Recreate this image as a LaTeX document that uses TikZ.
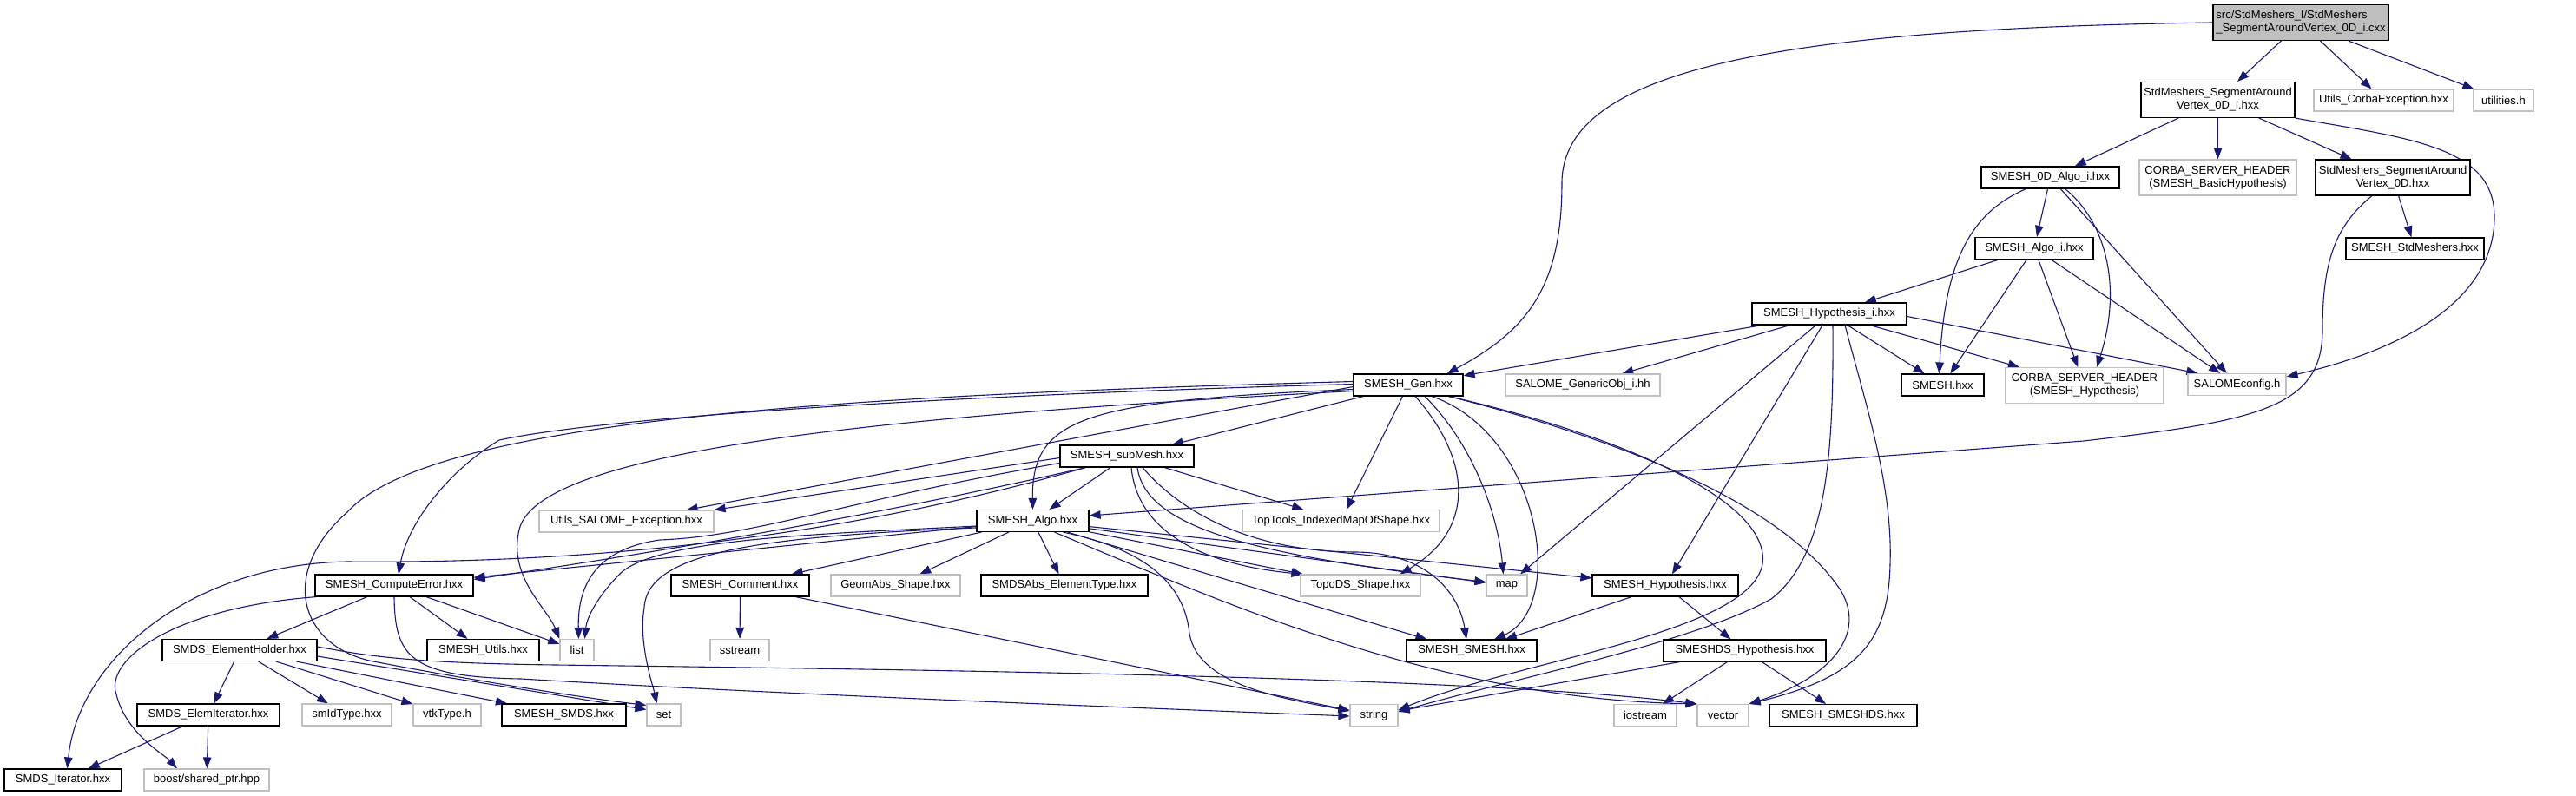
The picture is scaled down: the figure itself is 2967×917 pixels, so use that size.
\documentclass[tikz,border=0pt]{standalone}
\usepackage{fontspec}
\newfontfamily\dox{Liberation Sans}
\usetikzlibrary{arrows.meta,calc}
\definecolor{edgec}{HTML}{191970}
\definecolor{grayb}{HTML}{BFBFBF}
\pgfdeclarelayer{bg}
\pgfsetlayers{bg,main}
\begin{document}
\begin{tikzpicture}[x=1pt,y=-1pt,
  nd/.style={draw=black, line width=1.15pt, fill=white, minimum height=25pt, inner xsep=3pt, inner ysep=1pt,
    font=\dox\fontsize{13}{15}\selectfont, align=center},
  bn/.style={nd},
  gn/.style={nd, draw=grayb},
  tw/.style={minimum height=41pt},
  dep/.style={draw=edgec, line width=1.1pt, -{Triangle[length=13pt,width=9.5pt]}},
]
\useasboundingbox (0,0) rectangle (2967,917);
% nodes
\node[bn, tw, fill=grayb, align=left, minimum width=202pt] (root) at (2650,26) {src/StdMeshers\_I/StdMeshers\\\_SegmentAroundVertex\_0D\_i.cxx};
\node[bn, tw, minimum width=177pt] (v0di) at (2554.5,115) {StdMeshers\_SegmentAround\\Vertex\_0D\_i.hxx};
\node[gn, minimum width=161pt] (ucorba) at (2745.5,115.5) {Utils\_CorbaException.hxx};
\node[gn, minimum width=69pt] (utilh) at (2883.5,115.5) {utilities.h};
\node[bn, minimum width=159pt] (algo0d) at (2361.5,204.5) {SMESH\_0D\_Algo\_i.hxx};
\node[gn, tw, minimum width=181pt] (basichyp) at (2554.5,204.5) {CORBA\_SERVER\_HEADER\\(SMESH\_BasicHypothesis)};
\node[bn, tw, minimum width=178pt] (v0d) at (2756,204.5) {StdMeshers\_SegmentAround\\Vertex\_0D.hxx};
\node[bn, minimum width=136pt] (algoi) at (2343,286) {SMESH\_Algo\_i.hxx};
\node[bn, minimum width=159pt] (stdm) at (2781.5,286.5) {SMESH\_StdMeshers.hxx};
\node[bn, minimum width=178pt] (hypi) at (2107,361.5) {SMESH\_Hypothesis\_i.hxx};
\node[bn, minimum width=126pt] (gen) at (1622,443.5) {SMESH\_Gen.hxx};
\node[gn, minimum width=178pt] (generic) at (1823,443.5) {SALOME\_GenericObj\_i.hh};
\node[bn, minimum width=95pt] (smeshhxx) at (2237.5,443.5) {SMESH.hxx};
\node[gn, tw, minimum width=182pt] (corbahyp) at (2401,444) {CORBA\_SERVER\_HEADER\\(SMESH\_Hypothesis)};
\node[gn, minimum width=113pt] (salcfg) at (2576.5,443) {SALOMEconfig.h};
\node[bn, minimum width=154pt] (submesh) at (1298,525.5) {SMESH\_subMesh.hxx};
\node[gn, minimum width=201pt] (usalome) at (721.5,600.5) {Utils\_SALOME\_Exception.hxx};
\node[bn, minimum width=129pt] (algo) at (1189.5,600) {SMESH\_Algo.hxx};
\node[gn, minimum width=227pt] (toptools) at (1544.5,600) {TopTools\_IndexedMapOfShape.hxx};
\node[bn, minimum width=182pt] (comperr) at (454,674.5) {SMESH\_ComputeError.hxx};
\node[bn, minimum width=159pt] (comment) at (852.5,674.5) {SMESH\_Comment.hxx};
\node[gn, minimum width=149pt] (geomabs) at (1031.5,674.5) {GeomAbs\_Shape.hxx};
\node[bn, minimum width=192pt] (smdsabs) at (1226,674.5) {SMDSAbs\_ElementType.hxx};
\node[gn, minimum width=138pt] (topods) at (1567,674.5) {TopoDS\_Shape.hxx};
\node[gn, minimum width=47pt] (map) at (1735.5,674.5) {map};
\node[bn, minimum width=168pt] (smeshhyp) at (1918,674.5) {SMESH\_Hypothesis.hxx};
\node[bn, minimum width=178pt] (holder) at (276,749) {SMDS\_ElementHolder.hxx};
\node[bn, minimum width=129pt] (utils) at (556.5,749) {SMESH\_Utils.hxx};
\node[gn, minimum width=39pt] (list) at (664.5,749) {list};
\node[gn, minimum width=68pt] (sstream) at (852,749) {sstream};
\node[bn, minimum width=150pt] (smeshsmesh) at (1695,749.5) {SMESH\_SMESH.hxx};
\node[bn, minimum width=187pt] (dshyp) at (2009.5,749.5) {SMESHDS\_Hypothesis.hxx};
\node[bn, minimum width=164pt] (elemiter) at (240,823.5) {SMDS\_ElemIterator.hxx};
\node[gn, minimum width=103pt] (smidtype) at (399.5,823.5) {smIdType.hxx};
\node[gn, minimum width=78pt] (vtktype) at (515,823.5) {vtkType.h};
\node[bn, minimum width=143pt] (smds) at (649.5,823.5) {SMESH\_SMDS.hxx};
\node[gn, minimum width=39pt] (set) at (764.5,823.5) {set};
\node[gn, minimum width=55pt] (string) at (1582.5,824) {string};
\node[gn, minimum width=72pt] (iostream) at (1895,824) {iostream};
\node[gn, minimum width=59pt] (vector) at (1984.5,824) {vector};
\node[bn, minimum width=170pt] (smeshds) at (2123,824) {SMESH\_SMESHDS.hxx};
\node[bn, minimum width=135pt] (iterator) at (72.5,898.5) {SMDS\_Iterator.hxx};
\node[gn, minimum width=144pt] (boost) at (238,898.5) {boost/shared\_ptr.hpp};

\begin{pgfonlayer}{bg}
\fill[white] (0,0) rectangle (2967,917);
% root
\draw[dep] (root) -- (v0di);
\draw[dep] (root) -- (ucorba);
\draw[dep] (root) -- (utilh);
\draw[dep] (root.west) .. controls (2050,33) and (1800,80) .. (1799,210) .. controls (1799,330) and (1760,380) .. ($(gen.north east)+(-19,0)$);
% v0di
\draw[dep] (v0di) -- (algo0d);
\draw[dep] (v0di) -- (basichyp);
\draw[dep] (v0di) -- (v0d);
\draw[dep] (v0di.south east) .. controls (2780,160) and (2873,170) .. (2873,250) .. controls (2873,340) and (2780,400) .. ($(salcfg.north east)+(0,4)$);
% v0d
\draw[dep] (v0d) -- (stdm);
\draw[dep] ($(v0d.south)+(-24,0)$) .. controls (2690,260) and (2675,300) .. (2675,380) .. controls (2675,470) and (2600,485) .. (2400,508) -- ($(algo.east)+(0,-6)$);
% algo0d
\draw[dep] (algo0d) -- (algoi);
\draw[dep] ($(algo0d.south)+(-28,0)$) .. controls (2270,245) and (2240,300) .. ($(smeshhxx.north)+(-4,0)$);
\draw[dep] ($(algo0d.south)+(17,0)$) .. controls (2425,255) and (2445,330) .. ($(corbahyp.north)+(14,0)$);
\draw[dep] (algo0d) -- (salcfg);
% algoi
\draw[dep] (algoi) -- (hypi);
\draw[dep] (algoi) -- (smeshhxx);
\draw[dep] (algoi) -- (corbahyp);
\draw[dep] (algoi) -- (salcfg);
% hypi
\draw[dep] (hypi) -- (gen);
\draw[dep] (hypi) -- (generic);
\draw[dep] (hypi) -- (smeshhxx);
\draw[dep] (hypi) -- (corbahyp);
\draw[dep] ($(hypi.east)+(0,3)$) -- ($(salcfg.north west)+(12,0)$);
\draw[dep] (hypi) -- (map);
\draw[dep] (hypi) -- (smeshhyp);
\draw[dep] ($(hypi.south)+(4,0)$) .. controls (2112,520) and (2105,640) .. (2040,690) .. controls (1950,740) and (1750,780) .. ($(string.east)+(0,-4)$);
\draw[dep] ($(hypi.south)+(18,0)$) .. controls (2150,470) and (2180,560) .. (2177,650) .. controls (2175,740) and (2140,780) .. (vector.north east);
% gen
\draw[dep] (gen) -- (submesh);
\draw[dep] ($(gen.west)+(0,5)$) .. controls (1250,462) and (1188,480) .. (algo.north);
\draw[dep] (gen) -- (toptools);
\draw[dep] ($(gen.west)+(0,2)$) -- ($(usalome.north east)+(-32,0)$);
\draw[dep] ($(gen.west)+(0,-1)$) .. controls (1100,455) and (700,480) .. (575,507) .. controls (520,540) and (470,600) .. ($(comperr.north)+(5,0)$);
\draw[dep] ($(gen.west)+(0,7)$) .. controls (1000,480) and (620,520) .. (598,610) .. controls (585,665) and (630,700) .. (list.north west);
\draw[dep] ($(gen.west)+(0,-4)$) .. controls (1000,455) and (500,480) .. (400,590) .. controls (320,660) and (345,745) .. (430,762) .. controls (550,785) and (680,805) .. ($(set.north west)+(0,2)$);
\draw[dep] ($(gen.south)+(8,0)$) .. controls (1695,530) and (1700,610) .. ($(topods.north east)+(-24,0)$);
\draw[dep] ($(gen.south)+(19,0)$) .. controls (1695,510) and (1725,590) .. ($(map.north)+(-4,0)$);
\draw[dep] ($(gen.south)+(27,0)$) .. controls (1775,500) and (1805,700) .. ($(smeshsmesh.north)+(26,0)$);
\draw[dep] ($(gen.south east)+(-17,0)$) .. controls (1880,505) and (2040,580) .. (2030,650) .. controls (2015,730) and (1750,760) .. ($(string.east)+(0,-6)$);
\draw[dep] ($(gen.south east)+(-17,0)$) .. controls (1900,515) and (2060,590) .. (2120,680) .. controls (2150,730) and (2110,780) .. (vector.north east);
% submesh
\draw[dep] (submesh) -- (algo);
\draw[dep] (submesh) -- (toptools);
\draw[dep] ($(submesh.west)+(0,2)$) -- (usalome.north east);
\draw[dep] ($(submesh.south west)+(30,0)$) .. controls (1050,585) and (800,630) .. ($(comperr.east)+(0,-7)$);
\draw[dep] ($(submesh.south west)+(30,0)$) .. controls (1000,610) and (720,650) .. (400,647) .. controls (220,650) and (90,760) .. ($(iterator.north)+(5,0)$);
\draw[dep] ($(submesh.west)+(0,8)$) .. controls (980,575) and (870,618) .. (760,622) .. controls (690,632) and (665,670) .. ($(list.north)+(2,0)$);
\draw[dep] ($(submesh.south)+(5,0)$) .. controls (1310,610) and (1380,650) .. ($(topods.north west)+(3,0)$);
\draw[dep] ($(submesh.south)+(12,0)$) .. controls (1320,610) and (1450,640) .. ($(map.west)+(0,-4)$);
\draw[dep] ($(submesh.south)+(18,0)$) .. controls (1360,590) and (1440,635) .. (1560,636) .. controls (1640,636) and (1680,680) .. ($(smeshsmesh.north)+(-6,0)$);
% algo
\draw[dep] (algo) -- (comperr);
\draw[dep] ($(algo.west)+(0,6)$) .. controls (950,615) and (760,620) .. (715,660) .. controls (690,685) and (676,710) .. ($(list.north)+(9,0)$);
\draw[dep] ($(algo.west)+(0,8)$) .. controls (880,618) and (745,635) .. (742,700) .. controls (735,740) and (752,790) .. ($(set.north)+(-8,0)$);
\draw[dep] (algo) -- (comment);
\draw[dep] (algo) -- (geomabs);
\draw[dep] (algo) -- (smdsabs);
\draw[dep] (algo) -- (topods);
\draw[dep] (algo) -- (map);
\draw[dep] (algo) -- (smeshhyp);
\draw[dep] ($(algo.south)+(40,0)$) -- ($(smeshsmesh.north west)+(24,0)$);
\draw[dep] ($(algo.south)+(35,0)$) .. controls (1330,635) and (1365,680) .. (1370,730) .. controls (1380,790) and (1480,805) .. ($(string.west)+(0,-5)$);
\draw[dep] ($(algo.south)+(25,0)$) .. controls (1400,690) and (1650,805) .. (vector.north west);
% comperr
\draw[dep] (comperr) -- (holder);
\draw[dep] (comperr) -- (utils);
\draw[dep] (comperr) -- (list);
\draw[dep] ($(comperr.south west)+(2,0)$) .. controls (200,700) and (120,760) .. (134,800) .. controls (145,845) and (190,870) .. ($(boost.north)+(-34,0)$);
\draw[dep] (comperr.south) .. controls (455,755) and (470,780) .. (600,782) .. controls (900,800) and (1300,815) .. ($(string.west)+(0,1)$);
% comment
\draw[dep] (comment) -- (sstream);
\draw[dep] (comment) -- (string);
% holder
\draw[dep] (holder) -- (elemiter);
\draw[dep] (holder) -- (smidtype);
\draw[dep] (holder) -- (vtktype);
\draw[dep] (holder) -- (smds);
\draw[dep] ($(holder.east)+(0,7)$) -- ($(set.west)+(0,-6)$);
\draw[dep] ($(holder.east)+(0,-4)$) .. controls (420,755) and (470,764) .. (640,766) .. controls (1100,772) and (1700,780) .. (vector.north west);
% elemiter
\draw[dep] (elemiter) -- (iterator);
\draw[dep] (elemiter) -- (boost);
% smeshhyp
\draw[dep] (smeshhyp) -- (smeshsmesh);
\draw[dep] (smeshhyp) -- (dshyp);
% dshyp
\draw[dep] (dshyp) -- (string);
\draw[dep] (dshyp) -- (iostream);
\draw[dep] (dshyp) -- (smeshds);
\end{pgfonlayer}
\end{tikzpicture}
\end{document}
